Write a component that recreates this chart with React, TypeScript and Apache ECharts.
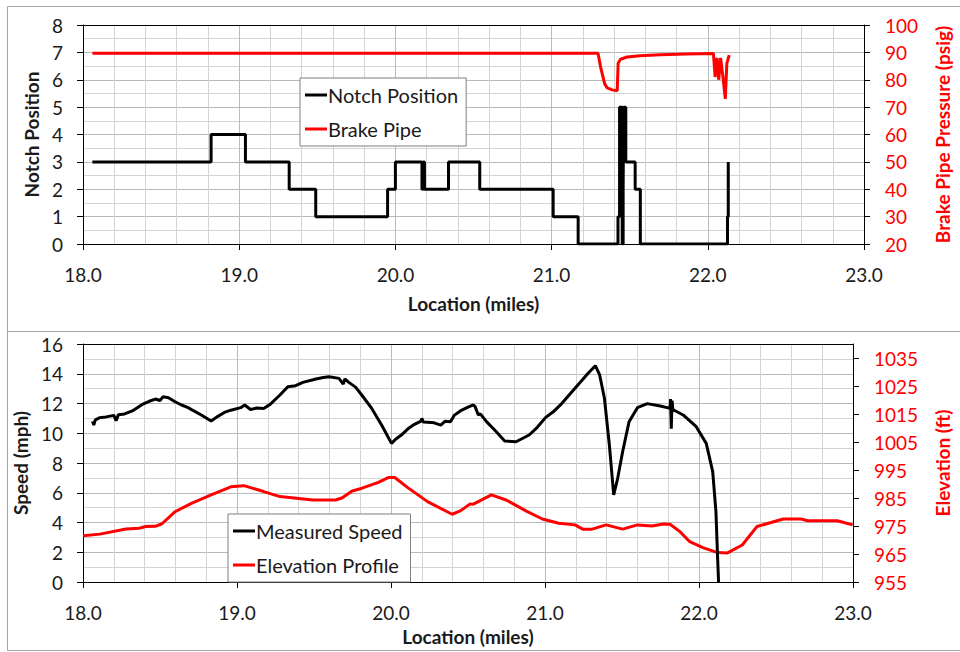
import React, { useEffect, useRef } from "react";
import * as echarts from "echarts";

// ---------- data ----------
const notchPosition: [number, number][] = [
  [18.06, 3], [18.82, 4], [19.04, 3], [19.32, 2], [19.49, 1], [19.95, 2], [20.0, 3],
  [20.17, 2], [20.178, 3], [20.186, 2], [20.34, 3], [20.54, 2], [21.01, 1], [21.17, 0],
  [21.425, 1], [21.435, 5], [21.452, 0], [21.458, 2], [21.461, 5], [21.475, 3],
  [21.535, 2], [21.568, 0], [22.126, 1], [22.131, 3], [22.133, 3],
];

const brakePipe: [number, number][] = [
  [18.06, 89.7], [21.297, 89.7], [21.306, 87], [21.314, 84.5], [21.325, 82], [21.34, 78.5],
  [21.356, 77], [21.388, 76.3], [21.42, 76], [21.426, 86], [21.441, 87.5], [21.483, 88.3],
  [21.567, 88.8], [21.694, 89.1], [21.863, 89.4], [22.036, 89.6], [22.047, 81], [22.059, 88],
  [22.07, 80], [22.082, 88], [22.099, 80], [22.112, 73], [22.122, 86], [22.137, 89],
];

const measuredSpeed: [number, number][] = [
  [18.062, 10.8], [18.07, 10.55], [18.08, 10.9], [18.109, 11.05], [18.15, 11.1], [18.2, 11.2],
  [18.215, 10.85], [18.23, 11.25], [18.27, 11.3], [18.32, 11.5], [18.385, 11.94], [18.43, 12.15],
  [18.47, 12.3], [18.5, 12.2], [18.52, 12.45], [18.555, 12.39], [18.598, 12.12], [18.64, 11.9],
  [18.683, 11.72], [18.72, 11.5], [18.768, 11.23], [18.832, 10.82], [18.87, 11.1], [18.918, 11.4],
  [18.96, 11.55], [19.024, 11.72], [19.05, 11.9], [19.088, 11.6], [19.13, 11.7], [19.173, 11.67],
  [19.215, 11.94], [19.279, 12.57], [19.33, 13.13], [19.38, 13.2], [19.428, 13.42], [19.513, 13.65],
  [19.56, 13.75], [19.598, 13.8], [19.662, 13.69], [19.69, 13.3], [19.7, 13.65], [19.726, 13.42],
  [19.77, 13.1], [19.81, 12.57], [19.875, 11.67], [19.939, 10.55], [20.003, 9.32], [20.03, 9.6],
  [20.067, 9.88], [20.11, 10.3], [20.152, 10.6], [20.195, 10.82], [20.2, 11.0], [20.21, 10.75],
  [20.237, 10.74], [20.28, 10.7], [20.323, 10.55], [20.35, 10.8], [20.386, 10.78], [20.41, 11.2],
  [20.45, 11.5], [20.5, 11.75], [20.535, 11.9], [20.546, 11.79], [20.567, 11.23], [20.58, 11.3],
  [20.62, 10.78], [20.684, 10.1], [20.738, 9.48], [20.812, 9.43], [20.897, 9.88], [20.95, 10.4],
  [21.003, 11.05], [21.06, 11.5], [21.11, 12.01], [21.195, 13.02], [21.28, 14.03], [21.327, 14.54],
  [21.355, 13.92], [21.386, 12.35], [21.418, 9.21], [21.446, 5.85], [21.472, 6.97], [21.504, 8.76],
  [21.546, 10.78], [21.6, 11.72], [21.664, 11.99], [21.749, 11.83], [21.812, 11.67], [21.815, 12.3],
  [21.82, 10.3], [21.825, 12.2], [21.83, 11.6], [21.897, 11.23], [21.982, 10.44], [22.047, 9.32],
  [22.089, 7.42], [22.11, 4.73], [22.121, 1.59], [22.127, 0],
];

const elevationProfile: [number, number][] = [
  [18.0, 971.5], [18.109, 972.1], [18.279, 973.9], [18.364, 974.2], [18.407, 974.8], [18.47, 974.9],
  [18.513, 975.8], [18.598, 980.1], [18.704, 983.1], [18.832, 986.1], [18.96, 989], [19.045, 989.4],
  [19.173, 987.3], [19.279, 985.5], [19.386, 984.9], [19.492, 984.3], [19.641, 984.3], [19.684, 985.1],
  [19.748, 987.5], [19.812, 988.5], [19.918, 990.6], [19.982, 992.3], [20.024, 992.3], [20.109, 988.7],
  [20.237, 983.7], [20.397, 979.2], [20.45, 980.4], [20.514, 982.9], [20.535, 982.8], [20.652, 986.1],
  [20.748, 984.3], [20.876, 980.4], [20.983, 977.5], [21.089, 976], [21.195, 975.4], [21.248, 973.8],
  [21.301, 973.8], [21.397, 975.4], [21.504, 973.9], [21.6, 975.4], [21.695, 975], [21.769, 975.7],
  [21.812, 975.6], [21.876, 973], [21.94, 969.4], [22.025, 967.3], [22.121, 965.5], [22.185, 965.4],
  [22.281, 968.2], [22.376, 974.8], [22.451, 976], [22.547, 977.5], [22.663, 977.5], [22.706, 976.9],
  [22.898, 976.9], [22.998, 975.4],
];

const elevationTicks = [955, 965, 975, 985, 995, 1005, 1015, 1025, 1035];

// ---------- styles ----------
const FONT = "Lato, 'Open Sans', sans-serif";
const RED = "#ff0000";
const BLACK = "#000000";
const TXT = "#1a1a1a";
const MAJOR_GRID = "#bababa";
const MINOR_GRID = "#d4d4d4";
const PANEL = "#a6a6a6";
const NAME_SIZE = 19;

function xAxisFor(gridIndex: number, nameGap: number) {
  return {
    type: "value",
    gridIndex,
    position: "bottom",
    min: 18,
    max: 23,
    interval: 1,
    name: "Location (miles)",
    nameLocation: "middle",
    nameGap,
    nameTextStyle: { fontFamily: FONT, fontSize: NAME_SIZE, fontWeight: "bold", color: TXT },
    axisLine: { show: true, onZero: false, lineStyle: { color: BLACK, width: 1 } },
    axisTick: { show: true, length: 6, lineStyle: { color: BLACK } },
    axisLabel: {
      margin: 21,
      fontFamily: FONT,
      fontSize: 19,
      color: TXT,
      formatter: (v: number) => v.toFixed(1),
    },
    splitLine: { show: true, lineStyle: { color: MAJOR_GRID, width: 1 } },
    minorTick: { show: false, splitNumber: 5 },
    minorSplitLine: { show: true, lineStyle: { color: MINOR_GRID, width: 1 } },
  };
}

function topFrameAxis(gridIndex: number) {
  return {
    type: "value",
    gridIndex,
    position: "top",
    min: 18,
    max: 23,
    interval: 1,
    axisLine: { show: true, onZero: false, lineStyle: { color: BLACK, width: 1 } },
    axisTick: { show: false },
    axisLabel: { show: false },
    splitLine: { show: false },
  };
}

export default function App() {
  const ref = useRef<HTMLDivElement>(null);

  useEffect(() => {
    if (!ref.current) return;
    const chart = echarts.init(ref.current, undefined, { renderer: "svg" });

    const leftAxisCommon = {
      type: "value",
      position: "left",
      nameLocation: "middle",
      nameRotate: 90,
      nameTextStyle: { fontFamily: FONT, fontSize: NAME_SIZE, fontWeight: "bold", color: TXT },
      axisLine: { show: true, onZero: false, lineStyle: { color: BLACK, width: 1 } },
      axisTick: { show: true, length: 6, lineStyle: { color: BLACK } },
      axisLabel: { margin: 20, fontFamily: FONT, fontSize: 19, color: TXT },
      splitLine: { show: true, lineStyle: { color: MAJOR_GRID, width: 1 } },
      minorTick: { show: false, splitNumber: 2 },
      minorSplitLine: { show: true, lineStyle: { color: MINOR_GRID, width: 1 } },
    };

    const rightAxisCommon = {
      type: "value",
      position: "right",
      nameLocation: "middle",
      nameRotate: 90,
      nameTextStyle: { fontFamily: FONT, fontSize: NAME_SIZE, fontWeight: "bold", color: RED },
      axisLine: { show: true, onZero: false, lineStyle: { color: BLACK, width: 1 } },
      axisTick: { show: true, length: 6, lineStyle: { color: BLACK } },
      axisLabel: { margin: 21, fontFamily: FONT, fontSize: 19, color: RED },
      splitLine: { show: false },
    };

    const legendCommon = {
      orient: "vertical",
      padding: [6, 8, 6, 5],
      itemGap: 12,
      icon: "rect",
      itemWidth: 22,
      itemHeight: 3,
      backgroundColor: "#ffffff",
      borderColor: "#7f7f7f",
      borderWidth: 1,
      borderRadius: 0,
      textStyle: { fontFamily: FONT, fontSize: 20, color: TXT, padding: [0, 0, 0, -4], lineHeight: 22 },
    };

    const option: any = {
      animation: false,
      backgroundColor: "#ffffff",
      textStyle: { fontFamily: FONT },
      grid: [
        { left: 83, top: 25, width: 790, height: 219, show: false },
        { left: 83, top: 344, width: 783, height: 238, show: false },
      ],
      xAxis: [xAxisFor(0, 50), xAxisFor(1, 45), topFrameAxis(0), topFrameAxis(1)],
      yAxis: [
        { ...leftAxisCommon, gridIndex: 0, min: 0, max: 8, interval: 1, name: "Notch Position", nameGap: 33 },
        { ...rightAxisCommon, gridIndex: 0, min: 20, max: 100, interval: 10, name: "Brake Pipe Pressure (psig)", nameGap: 69 },
        { ...leftAxisCommon, gridIndex: 1, min: 0, max: 16, interval: 2, name: "Speed (mph)", nameGap: 44 },
        {
          ...rightAxisCommon,
          gridIndex: 1,
          min: 955,
          max: 1040,
          name: "Elevation (ft)",
          nameGap: 80,
          axisTick: { show: true, length: 6, lineStyle: { color: BLACK }, customValues: elevationTicks },
          axisLabel: {
            margin: 21,
            fontFamily: FONT,
            fontSize: 19,
            color: RED,
            customValues: elevationTicks,
            formatter: (v: number) => String(Math.round(v)),
          },
        },
      ],
      legend: [
        { ...legendCommon, data: ["Notch Position", "Brake Pipe"], left: 300, top: 78 },
        { ...legendCommon, data: ["Measured Speed", "Elevation Profile"], left: 228, top: 514 },
      ],
      series: [
        {
          name: "Brake Pipe",
          type: "line",
          xAxisIndex: 0,
          yAxisIndex: 1,
          data: brakePipe,
          showSymbol: false,
          symbol: "none",
          lineStyle: { color: RED, width: 3 },
          itemStyle: { color: RED },
          z: 3,
        },
        {
          name: "Notch Position",
          type: "line",
          xAxisIndex: 0,
          yAxisIndex: 0,
          data: notchPosition,
          step: "end",
          showSymbol: false,
          symbol: "none",
          lineStyle: { color: BLACK, width: 3 },
          itemStyle: { color: BLACK },
          z: 4,
        },
        {
          name: "Elevation Profile",
          type: "line",
          xAxisIndex: 1,
          yAxisIndex: 3,
          data: elevationProfile,
          showSymbol: false,
          symbol: "none",
          lineStyle: { color: RED, width: 3 },
          itemStyle: { color: RED },
          z: 3,
        },
        {
          name: "Measured Speed",
          type: "line",
          xAxisIndex: 1,
          yAxisIndex: 2,
          data: measuredSpeed,
          showSymbol: false,
          symbol: "none",
          lineStyle: { color: BLACK, width: 3 },
          itemStyle: { color: BLACK },
          z: 4,
        },
      ],
      graphic: [
        { type: "line", shape: { x1: 7.5, y1: 6.5, x2: 960, y2: 6.5 }, style: { stroke: PANEL, lineWidth: 1 }, silent: true },
        { type: "line", shape: { x1: 7.5, y1: 331.5, x2: 960, y2: 331.5 }, style: { stroke: PANEL, lineWidth: 1 }, silent: true },
        { type: "line", shape: { x1: 7.5, y1: 650.5, x2: 960, y2: 650.5 }, style: { stroke: PANEL, lineWidth: 1 }, silent: true },
        { type: "line", shape: { x1: 7.5, y1: 6.5, x2: 7.5, y2: 650.5 }, style: { stroke: PANEL, lineWidth: 1 }, silent: true },
      ],
    };

    chart.setOption(option);
    return () => chart.dispose();
  }, []);

  return (
    <div
      ref={ref}
      style={{ position: "fixed", left: 0, top: 0, width: 960, height: 652, background: "#fff" }}
    />
  );
}
